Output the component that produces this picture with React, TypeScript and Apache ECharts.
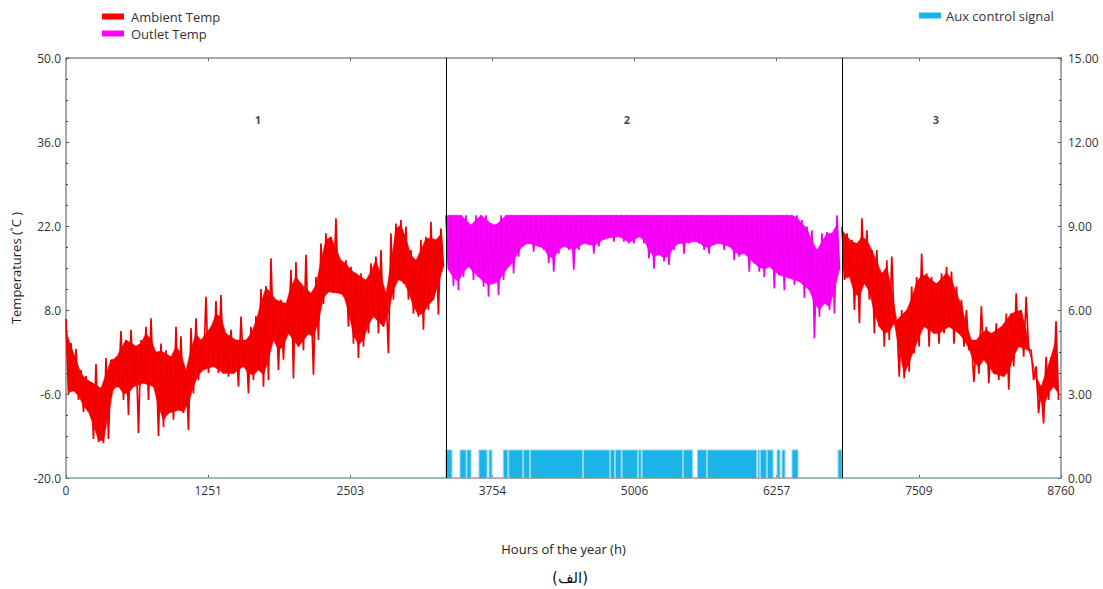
import React, { useEffect, useRef } from "react";
import * as echarts from "echarts";

// Section boundaries (hours of the year)
const SECTION_BOUNDS = [0, 3345, 6832, 8760];
const SECTION_LABELS = ["1", "2", "3"];
const SECTION_LABEL_HOURS = [1690, 4939, 7659];
const SECTION_LABEL_TEMP = 39.7;

// Ambient temperature, period 1 (envelope per ~44 h bin)
const AMB1_HIGH = [
  6.5, 2.5, 1.5, -2, -3, -4, -1, -5, 0, -0.3, 0.2, 4.5, 3, 4.7, 2, 3, 5.2, 6.6, 1, 2.4,
  1.3, 0.2, 5.2, 3.6, -2, 5, 6.6, 3, 10.2, 5.2, 9.5, 10.5, 4.1, 4.7, 3, 6.9, 3, 5.2, 7, 11.5,
  12, 16.6, 9.7, 9.7, 9.1, 14.7, 16, 12.4, 17.2, 10.8, 13.5, 19.1, 20.8, 20.2, 23.3, 16.3, 16.3, 15.2, 14.1, 14.1,
  13, 15.8, 16.9, 18, 10.8, 20.8, 22.4, 23, 21.9, 18, 16.3, 19.7, 20.2, 22.7, 19.7, 21.6,
];
const AMB1_LOW = [
  -6, -5.5, -7, -9, -9, -13.5, -14, -14.2, -13.5, -5.3, -4.8, -7, -9.5, -4.8, -12.5, -4.2, -7, -4.8, -13, -11.5,
  -9.2, -10.3, -8.7, -9.2, -12, -5.9, -3.7, -2, -2.5, -1.4, -2.5, -2.6, -3.1, -2.6, -4.8, -1.4, -5.9, -3.7, -2, -4.8,
  -3.7, 3, -2, -0.3, 4.1, -3.4, 1.9, 1.3, 4, -2.8, 3, 9, 11, 10.8, 10.8, 10.2, 5.2, 2.4, 0, 1.9,
  4.1, 6.9, 4.1, 5.2, 0.8, 9.7, 13, 12.4, 9.7, 7.4, 6.9, 4.7, 8, 9.7, 7.2, 15.2,
];

// Outlet temperature, period 2
const OUT_HIGH = [
  23.8, 23.8, 23.8, 23.8, 23.8, 22.2, 23.8, 23.8, 23.8, 22.5, 22.2, 23.8, 23.8, 23.8, 23.8, 23.8, 23.8, 23.8, 23.8, 23.8,
  23.8, 23.8, 23.8, 23.8, 23.8, 23.8, 23.8, 23.8, 23.8, 23.8, 23.8, 23.8, 23.8, 23.8, 23.8, 23.8, 23.8, 23.8, 23.8, 23.8,
  23.8, 23.8, 23.8, 23.8, 23.8, 23.8, 23.8, 23.8, 23.8, 23.8, 23.8, 23.8, 23.8, 23.8, 23.8, 23.8, 23.8, 23.8, 23.8, 23.8,
  23.8, 23.8, 23.8, 23.8, 23.8, 23.8, 23.8, 23.8, 23.8, 23.8, 23.8, 23, 21.9, 21.3, 18, 20.8, 21, 20.8, 23.8,
];
const OUT_LOW = [
  14.7, 12, 11.3, 13.5, 15.2, 13, 13.5, 11.9, 10.2, 12.4, 10.5, 13, 15.2, 14.1, 16.9, 18.6, 19.1, 17.7, 18.6, 18,
  15.8, 14.4, 17.4, 18.6, 18, 14.7, 18, 19.1, 18.8, 17.4, 18.6, 19.7, 20, 19.4, 20.2, 19.4, 19.1, 19.1, 20.2, 19.1,
  16.6, 14.9, 17.2, 16.1, 15.5, 18, 19.1, 17.4, 19.1, 19.4, 19.1, 18, 17.4, 18.8, 19.1, 18, 18.6, 16.3, 16.9, 17.4,
  14.4, 15.8, 14.4, 13.5, 15.2, 11.6, 13.8, 11.3, 13.3, 12.2, 12.7, 10, 11.3, 3.3, 6.9, 9.1, 8, 7.4, 14.7,
];

// Ambient temperature, period 3
const AMB3_HIGH = [
  21.9, 20.8, 19.7, 19.1, 23.3, 21.3, 18, 18, 14.1, 16.3, 16.9, 6.3, 8, 8, 11.9, 13.5, 17.4, 14.1, 13.5, 12.4,
  14.1, 15.2, 14.4, 11.9, 9.7, 8, 3, 3, 8.6, 5.2, 4.1, 5.8, 5.2, 7.4, 7.4, 10.8, 8, 10.2, 1.3, -1.4,
  -4.8, 0.2, 0.2, 6.1,
];
const AMB3_LOW = [
  13, 13.5, 8, 5.8, 12.4, 9.7, 4.1, 5.2, 1.9, 3, 5.8, -3.1, -3.4, -2.3, 0.8, 1.9, 5.2, 1.9, 4.1, 2.4,
  4.1, 5.2, 2.4, 4.1, 1.9, 1.3, -4, -2.6, -0.3, -4.2, -2.6, -3.7, -3.1, -5.3, -1.4, 1.9, 0.2, 1.3, -3.7, -9.2,
  -10.9, -7, -4.8, -7,
];

// Aux control signal: on-intervals (hours), value 1 while on
const AUX_ON_START = [
  3345, 3469, 3530, 3636, 3724, 3850, 3898, 4029, 4089, 4556, 4794, 4837, 4896, 5040, 5072, 5436, 5559, 5647,
  6092, 6114, 6174, 6260, 6304, 6392, 6797,
];
const AUX_ON_END = [
  3398, 3522, 3566, 3707, 3750, 3890, 4021, 4081, 4548, 4786, 4829, 4888, 5032, 5064, 5428, 5516, 5639, 6080,
  6106, 6166, 6225, 6286, 6330, 6445, 6832,
];
const AUX_ON_VALUE = 1;

const FONT = "'Open Sans', 'Noto Sans', sans-serif";
const RED = "#ff0000";
const MAGENTA = "#ff00ff";
const CYAN = "#1ab4e8";

function zigzag(start: number, end: number, highs: number[], lows: number[]) {
  const n = highs.length;
  const step = (end - start) / n;
  const out: any[] = [];
  for (let i = 0; i < n; i++) {
    out.push([start + i * step, highs[i]]);
    out.push([start + (i + 0.5) * step, lows[i]]);
  }
  return out;
}

const median3 = (a: number, b: number, c: number) => a + b + c - Math.min(a, b, c) - Math.max(a, b, c);

// Solid core of the band drawn under the swings, so isolated spikes stick out of it
function core(start: number, end: number, highs: number[], lows: number[]) {
  const n = highs.length;
  const step = (end - start) / n;
  const top: number[][] = [];
  const bottom: number[][] = [];
  for (let i = 0; i < n; i++) {
    const a = Math.max(0, i - 1);
    const b = Math.min(n - 1, i + 1);
    const tMin = Math.min(highs[a], highs[i], highs[b]);
    const tMed = Math.min(highs[i], median3(highs[a], highs[i], highs[b]));
    const lMax = Math.max(lows[a], lows[i], lows[b]);
    const lMed = Math.max(lows[i], median3(lows[a], lows[i], lows[b]));
    let t = (tMin + tMed) / 2;
    let l = (lMax + lMed) / 2;
    if (t < l) {
      const m = (t + l) / 2;
      t = m;
      l = m;
    }
    top.push([start + i * step, t]);
    bottom.push([start + (i + 0.5) * step, l]);
  }
  return { top, bottom };
}

function bandSeries(name: string, env: { top: number[][]; bottom: number[][] }, color: string) {
  return {
    name,
    type: "custom",
    data: [env.top[0]],
    z: 3,
    silent: true,
    renderItem: (_p: any, api: any) => {
      const pts: number[][] = [];
      env.top.forEach((d) => pts.push(api.coord(d)));
      for (let i = env.bottom.length - 1; i >= 0; i--) pts.push(api.coord(env.bottom[i]));
      return { type: "polygon", shape: { points: pts }, style: { fill: color, stroke: color, lineWidth: 0.5 } };
    },
  };
}

export default function App() {
  const ref = useRef<HTMLDivElement>(null);

  useEffect(() => {
    if (!ref.current) return;
    const chart = echarts.init(ref.current, null, { renderer: "svg" });

    const ambient = [
      ...zigzag(SECTION_BOUNDS[0], SECTION_BOUNDS[1], AMB1_HIGH, AMB1_LOW),
      [SECTION_BOUNDS[1] + 1, "-"],
      ...zigzag(SECTION_BOUNDS[2], SECTION_BOUNDS[3], AMB3_HIGH, AMB3_LOW),
    ];
    const outlet = zigzag(SECTION_BOUNDS[1], SECTION_BOUNDS[2], OUT_HIGH, OUT_LOW);

    const env1 = core(SECTION_BOUNDS[0], SECTION_BOUNDS[1], AMB1_HIGH, AMB1_LOW);
    const env2 = core(SECTION_BOUNDS[1], SECTION_BOUNDS[2], OUT_HIGH, OUT_LOW);
    const env3 = core(SECTION_BOUNDS[2], SECTION_BOUNDS[3], AMB3_HIGH, AMB3_LOW);

    const aux: number[][] = [[0, 0]];
    AUX_ON_START.forEach((s, i) => {
      const e = AUX_ON_END[i];
      aux.push([s, 0], [s, AUX_ON_VALUE], [e, AUX_ON_VALUE], [e, 0]);
    });
    aux.push([8760, 0]);

    const labels = SECTION_LABELS.map((l, i) => [SECTION_LABEL_HOURS[i], SECTION_LABEL_TEMP, l]);

    const axisLineStyle = { color: "#8a8a8a", width: 1.5 };

    chart.setOption({
      animation: false,
      backgroundColor: "#ffffff",
      textStyle: { fontFamily: FONT },
      grid: { left: 66, right: 42, top: 58, bottom: 111, show: false },
      legend: [
        {
          data: ["Ambient Temp", "Outlet Temp"],
          orient: "vertical",
          left: 97,
          top: 5,
          itemWidth: 22,
          itemHeight: 6,
          itemGap: 4,
          icon: "rect",
          textStyle: { fontSize: 13, color: "#333", fontFamily: FONT, padding: [0, 0, 0, 2] },
        },
        {
          data: ["Aux control signal"],
          orient: "vertical",
          left: 914,
          top: 4,
          itemWidth: 22,
          itemHeight: 6,
          icon: "rect",
          textStyle: { fontSize: 13, color: "#333", fontFamily: FONT, padding: [0, 0, 0, 0] },
        },
      ],
      xAxis: [
        {
          type: "value",
          min: 0,
          max: 8760,
          interval: 8760 / 7,
          name: "Hours of the year (h)",
          nameLocation: "middle",
          nameGap: 64,
          nameTextStyle: { fontSize: 13, color: "#222", fontFamily: FONT },
          axisLine: { show: true, onZero: false, lineStyle: axisLineStyle },
          axisTick: { show: true, inside: true, length: 3, lineStyle: { color: "#666" } },
          axisLabel: {
            fontSize: 12,
            color: "#333",
            margin: 6,
            formatter: (v: number) => String(Math.round(v)),
          },
          splitLine: { show: false },
        },
        {
          type: "value",
          position: "top",
          min: 0,
          max: 8760,
          interval: 8760 / 7,
          axisLine: { show: true, onZero: false, lineStyle: axisLineStyle },
          axisTick: { show: true, inside: true, length: 3, lineStyle: { color: "#666" } },
          axisLabel: { show: false },
          splitLine: { show: false },
        },
      ],
      yAxis: [
        {
          type: "value",
          min: -20,
          max: 50,
          interval: 14,
          name: "Temperatures (˚C )",
          nameLocation: "middle",
          nameGap: 44,
          nameRotate: 90,
          nameTextStyle: { fontSize: 13, color: "#222", fontFamily: FONT },
          axisLine: { show: true, onZero: false, lineStyle: axisLineStyle },
          axisTick: { show: true, inside: true, length: 3, lineStyle: { color: "#555" } },
          minorTick: { show: true, splitNumber: 4, length: 2, lineStyle: { color: "#444" } },
          axisLabel: { fontSize: 12, color: "#333", margin: 5, formatter: (v: number) => v.toFixed(1) },
          splitLine: { show: false },
        },
        {
          type: "value",
          min: 0,
          max: 15,
          interval: 3,
          position: "right",
          axisLine: { show: true, onZero: false, lineStyle: axisLineStyle },
          axisTick: { show: true, inside: true, length: 3, lineStyle: { color: "#555" } },
          minorTick: { show: true, splitNumber: 4, length: 2, lineStyle: { color: "#444" } },
          axisLabel: { fontSize: 12, color: "#333", margin: 7, formatter: (v: number) => v.toFixed(2) },
          splitLine: { show: false },
        },
      ],
      graphic: [
        {
          type: "text",
          x: 570,
          y: 578,
          style: {
            text: "(الف)",
            font: "15px 'DejaVu Sans', sans-serif",
            fill: "#111",
            textAlign: "center",
            textVerticalAlign: "middle",
          },
        },
      ],
      series: [
        {
          name: "Aux control signal",
          type: "line",
          yAxisIndex: 1,
          data: aux,
          symbol: "none",
          color: CYAN,
          itemStyle: { color: CYAN },
          lineStyle: { color: "#8ad8ec", width: 1 },
          areaStyle: { color: CYAN, opacity: 1 },
          z: 2,
        },
        bandSeries("ambient-band-1", env1, RED),
        bandSeries("outlet-band", env2, MAGENTA),
        bandSeries("ambient-band-3", env3, RED),
        {
          name: "Ambient Temp",
          type: "line",
          data: ambient,
          symbol: "none",
          color: RED,
          itemStyle: { color: RED },
          lineStyle: { color: "#ee0000", width: 1.7, join: "bevel" },
          connectNulls: false,
          z: 4,
          markLine: {
            silent: true,
            symbol: ["none", "none"],
            label: { show: false },
            lineStyle: { color: "#000", width: 1, type: "solid" },
            data: [{ xAxis: SECTION_BOUNDS[1] }, { xAxis: SECTION_BOUNDS[2] }],
          },
        },
        {
          name: "Outlet Temp",
          type: "line",
          data: outlet,
          symbol: "none",
          color: MAGENTA,
          itemStyle: { color: MAGENTA },
          lineStyle: { color: "#f000f0", width: 1.7, join: "bevel" },
          z: 4,
        },
        {
          name: "sections",
          type: "scatter",
          data: labels,
          symbolSize: 1,
          itemStyle: { color: "rgba(0,0,0,0)" },
          label: {
            show: true,
            position: "inside",
            formatter: (p: any) => p.data[2],
            fontSize: 11,
            fontWeight: "bold",
            color: "#111",
            fontFamily: FONT,
          },
          z: 5,
        },
      ],
    });

    return () => chart.dispose();
  }, []);

  return (
    <div
      ref={ref}
      style={{ position: "fixed", left: 0, top: 0, width: 1103, height: 589, background: "#fff" }}
    />
  );
}
